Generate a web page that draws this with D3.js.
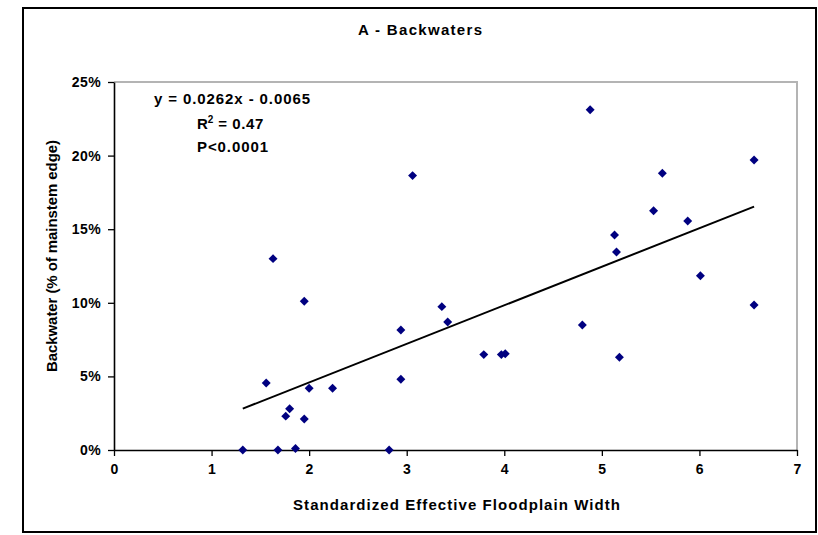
<!DOCTYPE html>
<html>
  <head>
    <meta charset="utf-8">
    <style>
      body{ margin:0; background:#fff; }
      svg{ display:block; font-family:"Liberation Sans", Arial, sans-serif; font-weight:bold; }
    </style>
  </head>
  <body>
    <svg id="chart" width="818" height="535"></svg>
  </body>
  <script src="https://cdn.jsdelivr.net/npm/d3@7/dist/d3.min.js"></script>
  <script>
    // floodplain width (x) and backwater fraction (y)
    var widths = [1.32, 1.68, 1.86, 2.82, 1.56, 1.63, 1.95, 2.00, 2.24, 1.80,
                  1.76, 1.95, 2.94, 2.94, 3.06, 3.36, 3.42, 3.79, 3.97, 4.01,
                  4.80, 4.88, 5.13, 5.15, 5.18, 5.53, 5.62, 5.88, 6.01, 6.56, 6.56]
    var backwater = [0.000, 0.000, 0.001, 0.000, 0.0455, 0.130, 0.101, 0.042, 0.042, 0.028,
                     0.023, 0.021, 0.0815, 0.048, 0.1864, 0.0974, 0.087, 0.0648, 0.0648, 0.0654,
                     0.0849, 0.2312, 0.146, 0.1345, 0.063, 0.1626, 0.188, 0.1556, 0.1184, 0.197, 0.0985]
    var xTicks = [0, 1, 2, 3, 4, 5, 6, 7]
    var yTicks = [0, 0.05, 0.10, 0.15, 0.20, 0.25]
    var slope = 0.0262, intercept = -0.0065
    var rSquared = "0.47", pText = "P<0.0001"

    var svg = d3.select("#chart")
    var plotL = 114, plotR = 797, plotT = 82, plotB = 450

    var x = d3.scaleLinear().domain([0, 7]).range([plotL, plotR])
    var y = d3.scaleLinear().domain([0, 0.25]).range([plotB, plotT])

    // outer frame
    svg.append("rect").attr("x", 23).attr("y", 8).attr("width", 793).attr("height", 524)
      .attr("fill", "none").attr("stroke", "#000").attr("stroke-width", 2)

    // plot border (top/right grey)
    svg.append("path")
      .attr("d", "M" + plotL + "," + plotT + "H" + plotR + "V" + plotB)
      .attr("fill", "none").attr("stroke", "#b4b4b4").attr("stroke-width", 2)

    svg.append("text").attr("x", 358).attr("y", 35)
      .attr("font-size", 15).attr("textLength", 124).attr("lengthAdjust", "spacing")
      .text("A - Backwaters")

    var xAxis = svg.append("g").attr("transform", "translate(0," + plotB + ")")
      .call(d3.axisBottom(x).tickValues(xTicks).tickFormat(d3.format("d")).tickSizeInner(6).tickSizeOuter(0).tickPadding(8))
    var yAxis = svg.append("g").attr("transform", "translate(" + plotL + ",0)")
      .call(d3.axisLeft(y).tickValues(yTicks).tickFormat(d3.format(".0%")).tickSizeInner(6).tickSizeOuter(0).tickPadding(7))
    ;[xAxis, yAxis].forEach(function(g){
      g.attr("font-family", null).attr("font-size", 14)
      g.select(".domain").attr("stroke", "#000").attr("stroke-width", 1.6)
      g.selectAll(".tick line").attr("stroke", "#000").attr("stroke-width", 1.3)
      g.selectAll(".tick text").attr("fill", "#000").attr("letter-spacing", 0.4)
    })

    svg.append("text").attr("x", 293).attr("y", 510)
      .attr("font-size", 15).attr("textLength", 327).attr("lengthAdjust", "spacing")
      .text("Standardized Effective Floodplain Width")
    svg.append("text").attr("transform", "translate(57,372) rotate(-90)")
      .attr("font-size", 15).attr("textLength", 232).attr("lengthAdjust", "spacing")
      .text("Backwater (% of mainstem edge)")

    // trend line over data range
    var xr = d3.extent(widths)
    svg.append("line")
      .attr("x1", x(xr[0])).attr("y1", y(slope * xr[0] + intercept))
      .attr("x2", x(xr[1])).attr("y2", y(slope * xr[1] + intercept))
      .attr("stroke", "#000").attr("stroke-width", 2)

    svg.selectAll("path.pt").data(widths).enter().append("path").attr("class", "pt")
      .attr("d", d3.symbol().type(d3.symbolSquare).size(40))
      .attr("transform", function(d, i){ return "translate(" + x(d) + "," + y(backwater[i]) + ") rotate(45)" })
      .attr("fill", "#000080")

    // regression annotation
    svg.append("text").attr("x", 154).attr("y", 104).attr("font-size", 15)
      .attr("textLength", 156).attr("lengthAdjust", "spacing")
      .text("y = " + slope + "x  - " + Math.abs(intercept).toFixed(4))
    var r2 = svg.append("text").attr("x", 197).attr("y", 129).attr("font-size", 15)
    r2.append("tspan").text("R")
    r2.append("tspan").attr("font-size", 10).attr("dy", -6).text("2")
    r2.append("tspan").attr("dy", 6).attr("letter-spacing", 0.6).text(" = " + rSquared)
    svg.append("text").attr("x", 197).attr("y", 152).attr("font-size", 15)
      .attr("textLength", 71).attr("lengthAdjust", "spacing")
      .text(pText)
  </script>
</html>
